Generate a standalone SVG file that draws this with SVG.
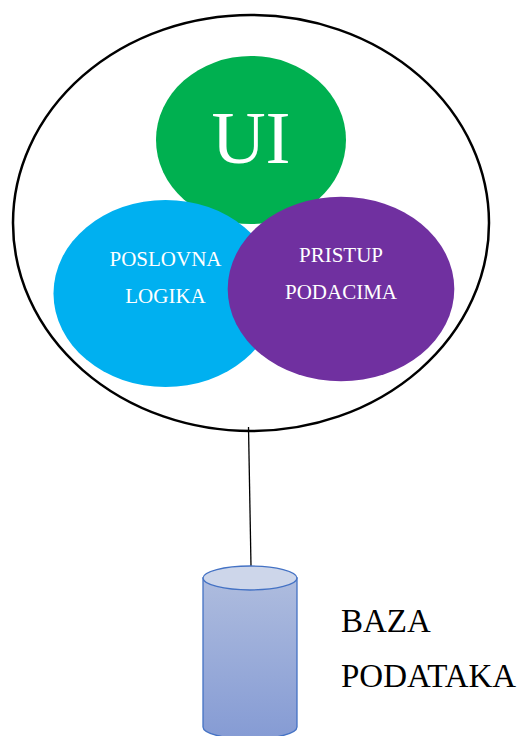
<svg xmlns="http://www.w3.org/2000/svg" width="518" height="736" viewBox="0 0 518 736">
<style>text{font-family:"Liberation Serif","Times New Roman",serif}.w{fill:#fff;font-size:21px;text-anchor:middle}.k{fill:#000;font-size:33px}</style>
<defs><linearGradient id="g" x1="0" y1="0" x2="0" y2="1"><stop offset="0" stop-color="#aebcde"/><stop offset="1" stop-color="#859bd4"/></linearGradient></defs>
<rect width="518" height="736" fill="#fff"/>
<g id="outer"><ellipse cx="251" cy="223" rx="238" ry="208" fill="#fff" stroke="#000" stroke-width="2.5"/></g>
<g id="ui"><ellipse cx="251" cy="140" rx="95" ry="84" fill="#00b050"/><text x="251" y="163" fill="#fff" font-size="75" text-anchor="middle">UI</text></g>
<g id="poslovna"><ellipse cx="165.5" cy="293.5" rx="112" ry="93.5" fill="#00b0f0"/><text class="w" x="165.5" y="266">POSLOVNA</text><text class="w" x="165.5" y="303">LOGIKA</text></g>
<g id="pristup"><ellipse cx="341" cy="289" rx="113.3" ry="92.3" fill="#7030a0"/><text class="w" x="341" y="262">PRISTUP</text><text class="w" x="341" y="299">PODACIMA</text></g>
<g id="connectors"><line x1="248.5" y1="427" x2="251" y2="566" stroke="#000" stroke-width="1.3"/></g>
<g id="baza"><path d="M203 578V727A47 12 0 0 0 297 727V578Z" fill="url(#g)" stroke="#4472c4" stroke-width="1.3"/><ellipse cx="250" cy="578" rx="47" ry="12" fill="#cdd6ea" stroke="#4472c4" stroke-width="1.3"/></g>
<g id="label"><text class="k" x="341" y="632">BAZA</text><text class="k" x="341" y="687">PODATAKA</text></g>
</svg>
